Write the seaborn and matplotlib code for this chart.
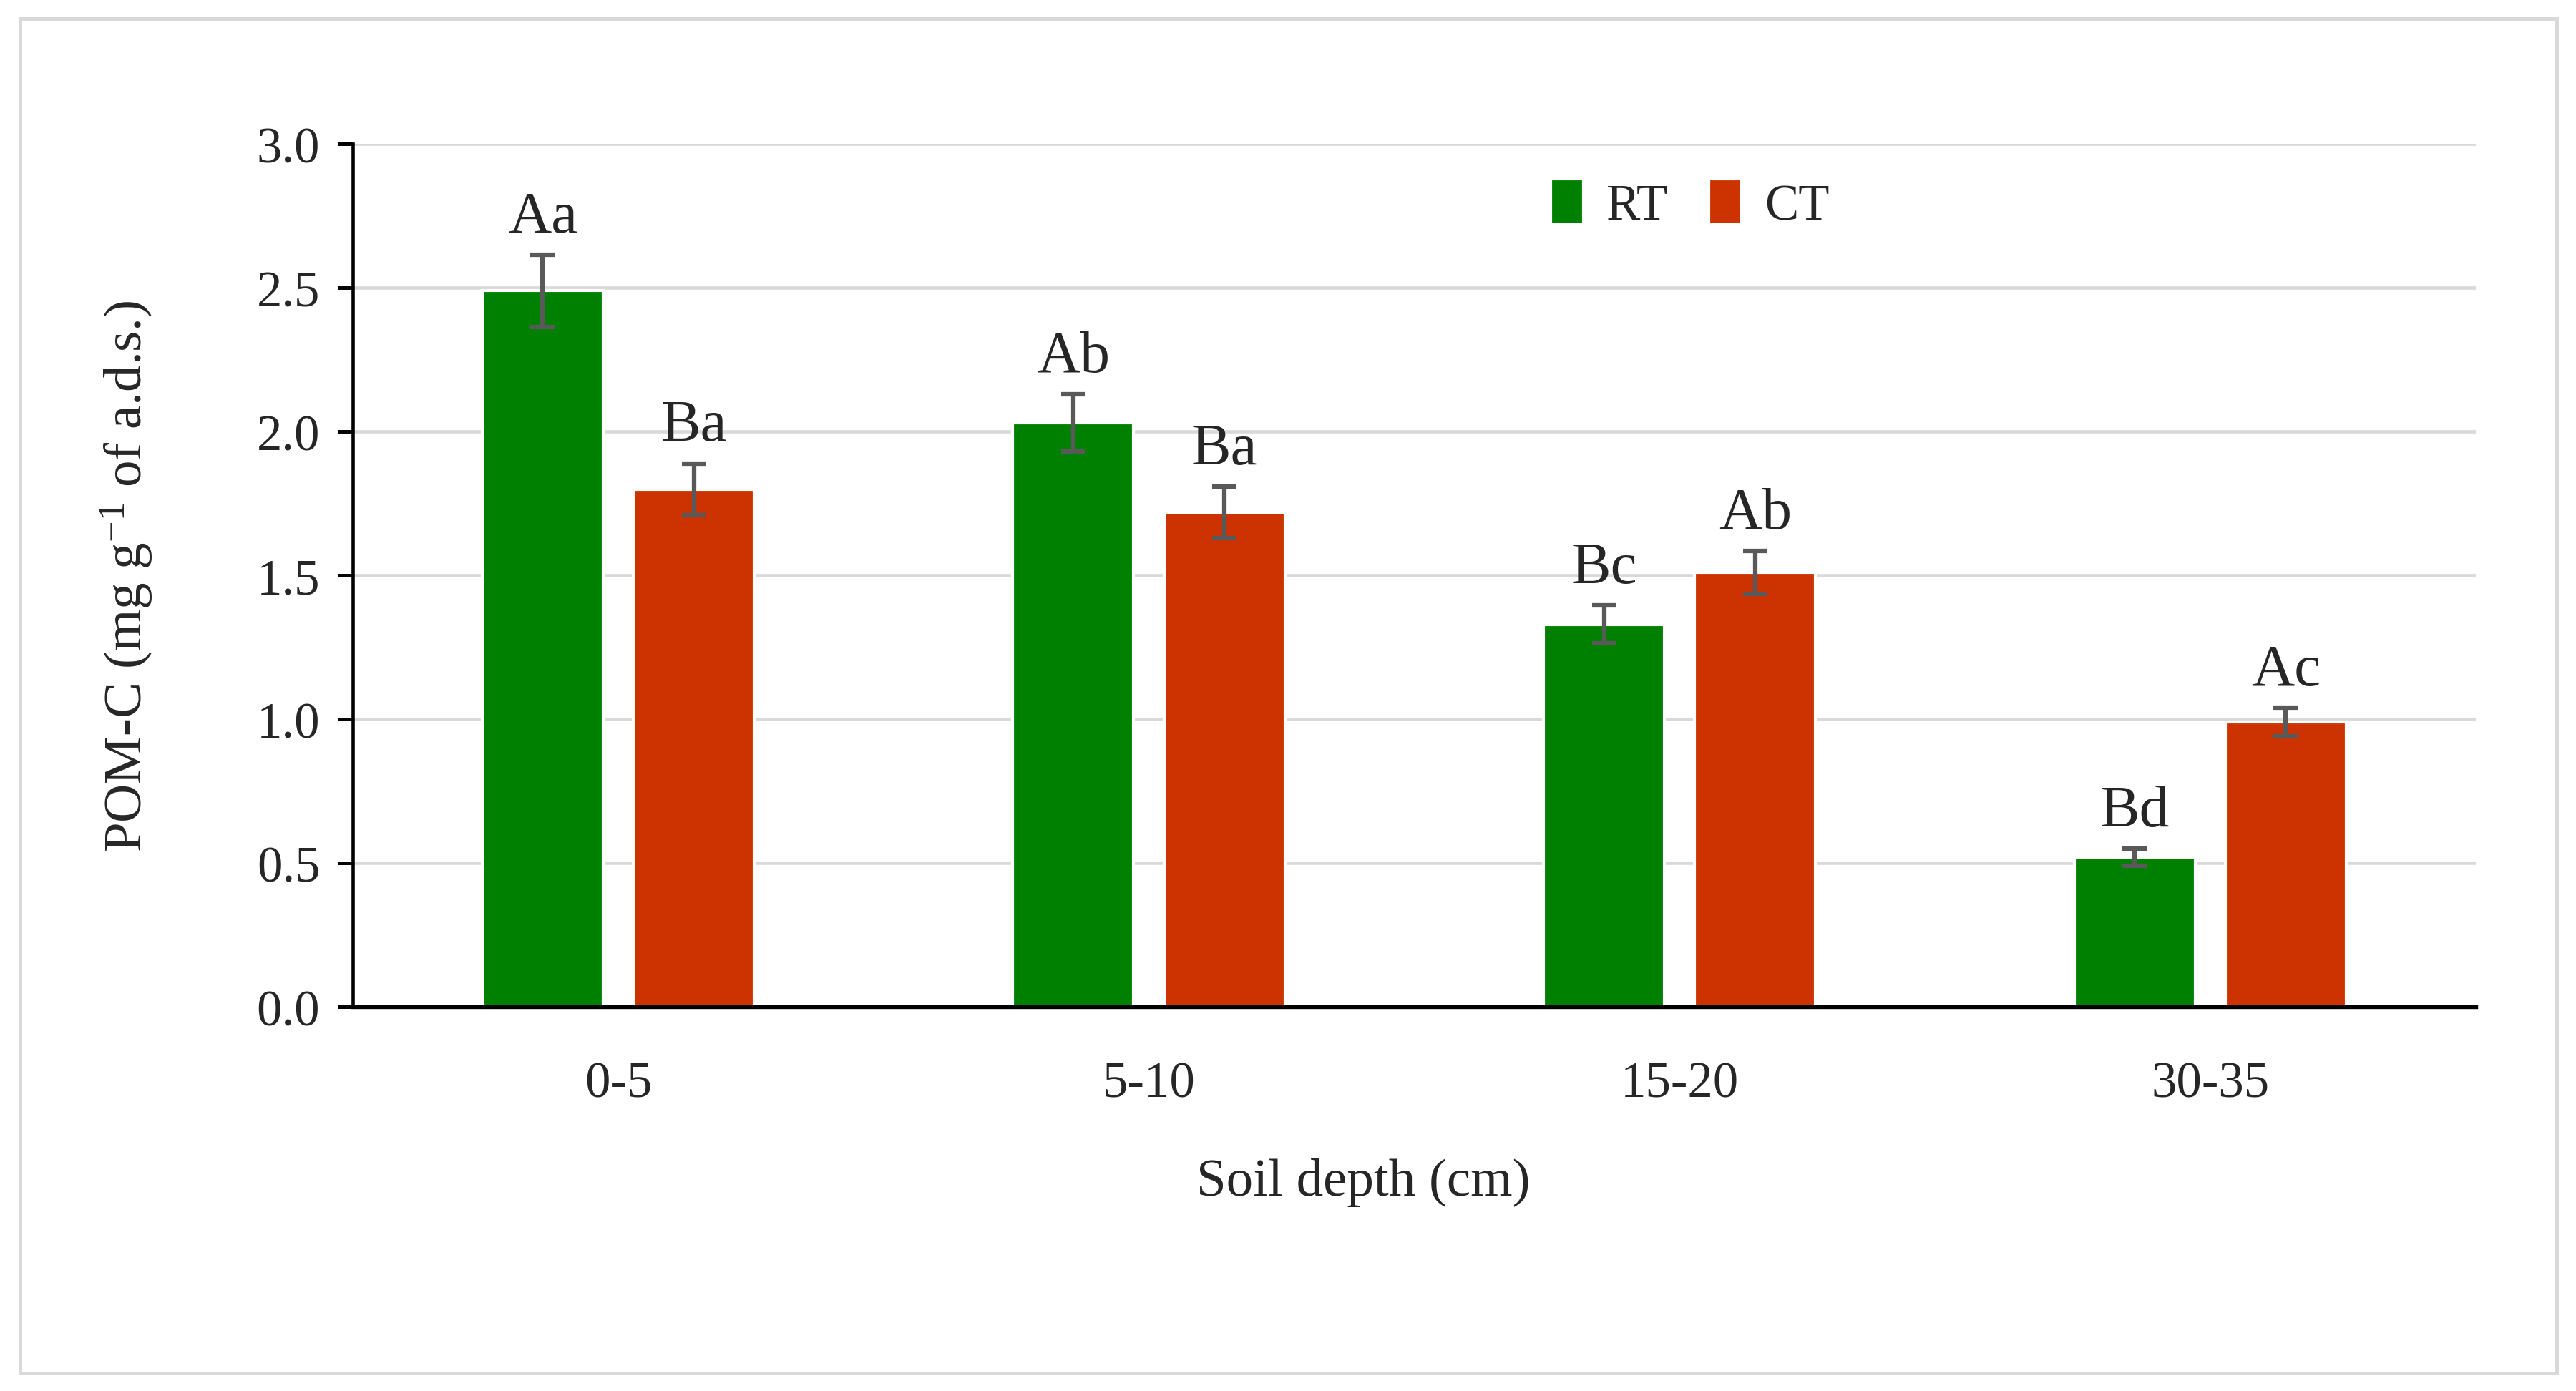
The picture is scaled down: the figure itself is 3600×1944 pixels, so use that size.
import pandas as pd
import seaborn as sns
import matplotlib.pyplot as plt
from matplotlib.patches import Rectangle

# data
depths = ['0-5', '5-10', '15-20', '30-35']
rt_mean = [2.49, 2.03, 1.33, 0.52]
ct_mean = [1.80, 1.72, 1.51, 0.99]
rt_err = [0.125, 0.10, 0.065, 0.03]
ct_err = [0.09, 0.09, 0.075, 0.05]
rt_letters = ['Aa', 'Ab', 'Bc', 'Bd']
ct_letters = ['Ba', 'Ba', 'Ab', 'Ac']

df = pd.DataFrame({
    'depth': depths * 2,
    'pomc': rt_mean + ct_mean,
    'tillage': ['RT'] * 4 + ['CT'] * 4,
})

sns.set_style('white')
plt.rcParams['font.family'] = ['Liberation Serif', 'DejaVu Serif']
plt.rcParams['mathtext.fontset'] = 'custom'
plt.rcParams['mathtext.rm'] = 'Liberation Serif'
plt.rcParams['mathtext.it'] = 'Liberation Serif:italic'

fig = plt.figure(figsize=(12, 6.483), dpi=300)
ax = fig.add_axes([0.137, 0.276, 0.824, 0.62])

sns.barplot(data=df, x='depth', y='pomc', hue='tillage',
            palette={'RT': '#008000', 'CT': '#CC3300'},
            width=0.57, gap=0.2, errorbar=None, saturation=1, ax=ax)

# error bars + letters on top of the seaborn bars
for cont, errs, letters in zip(ax.containers, [rt_err, ct_err], [rt_letters, ct_letters]):
    for bar, e, lab in zip(cont, errs, letters):
        x = bar.get_x() + bar.get_width() / 2
        y = bar.get_height()
        ax.errorbar(x, y, yerr=e, color='#595959', elinewidth=1.5,
                    capsize=4, capthick=1.5, zorder=4)
        ax.text(x, y + e + 0.035, lab, ha='center', va='bottom', fontsize=20)

ax.set_ylim(0, 3.0)
ax.set_xlim(-0.5, 3.5)
ax.set_yticks([0, 0.5, 1.0, 1.5, 2.0, 2.5, 3.0])
ax.set_yticklabels([f'{v:.1f}' for v in ax.get_yticks()], fontsize=17)
ax.yaxis.grid(True, color='#D9D9D9', linewidth=1.1)
ax.set_axisbelow(True)

ax.set_xticks([0, 1, 2, 3])
ax.set_xticklabels(depths, fontsize=17)
ax.set_xticks([-0.5, 0.5, 1.5, 2.5, 3.5], minor=True)
ax.tick_params(axis='x', which='major', length=0, pad=18)
ax.tick_params(axis='x', which='minor', length=7, width=0.9, color='black', direction='out')
ax.tick_params(axis='y', length=5, width=1.2, color='black', direction='out', left=True, pad=6)

for s in ['top', 'right']:
    ax.spines[s].set_visible(False)
ax.spines['left'].set_color('black')
ax.spines['left'].set_linewidth(1.1)
ax.spines['bottom'].set_color('black')
ax.spines['bottom'].set_linewidth(1.3)

ax.set_xlabel('Soil depth (cm)', fontsize=18, labelpad=20)
ax.xaxis.set_label_coords(0.476, -0.175)
ax.set_ylabel('POM-C (mg g$^{\\mathrm{\u22121}}$ of a.d.s.)', fontsize=18, labelpad=34)

handles, labels = ax.get_legend_handles_labels()
ax.legend(handles, labels, ncol=2, frameon=False, loc='center',
          bbox_to_anchor=(0.63, 0.93), fontsize=17, handlelength=0.65,
          handleheight=1.0, handletextpad=0.45, columnspacing=0.8)

# light grey frame around the whole figure
fig.patches.append(Rectangle((0.0077, 0.013), 0.9848, 0.973, transform=fig.transFigure,
                             fill=False, edgecolor='#D9D9D9', linewidth=1.2))

plt.savefig('out.png', dpi=300)
